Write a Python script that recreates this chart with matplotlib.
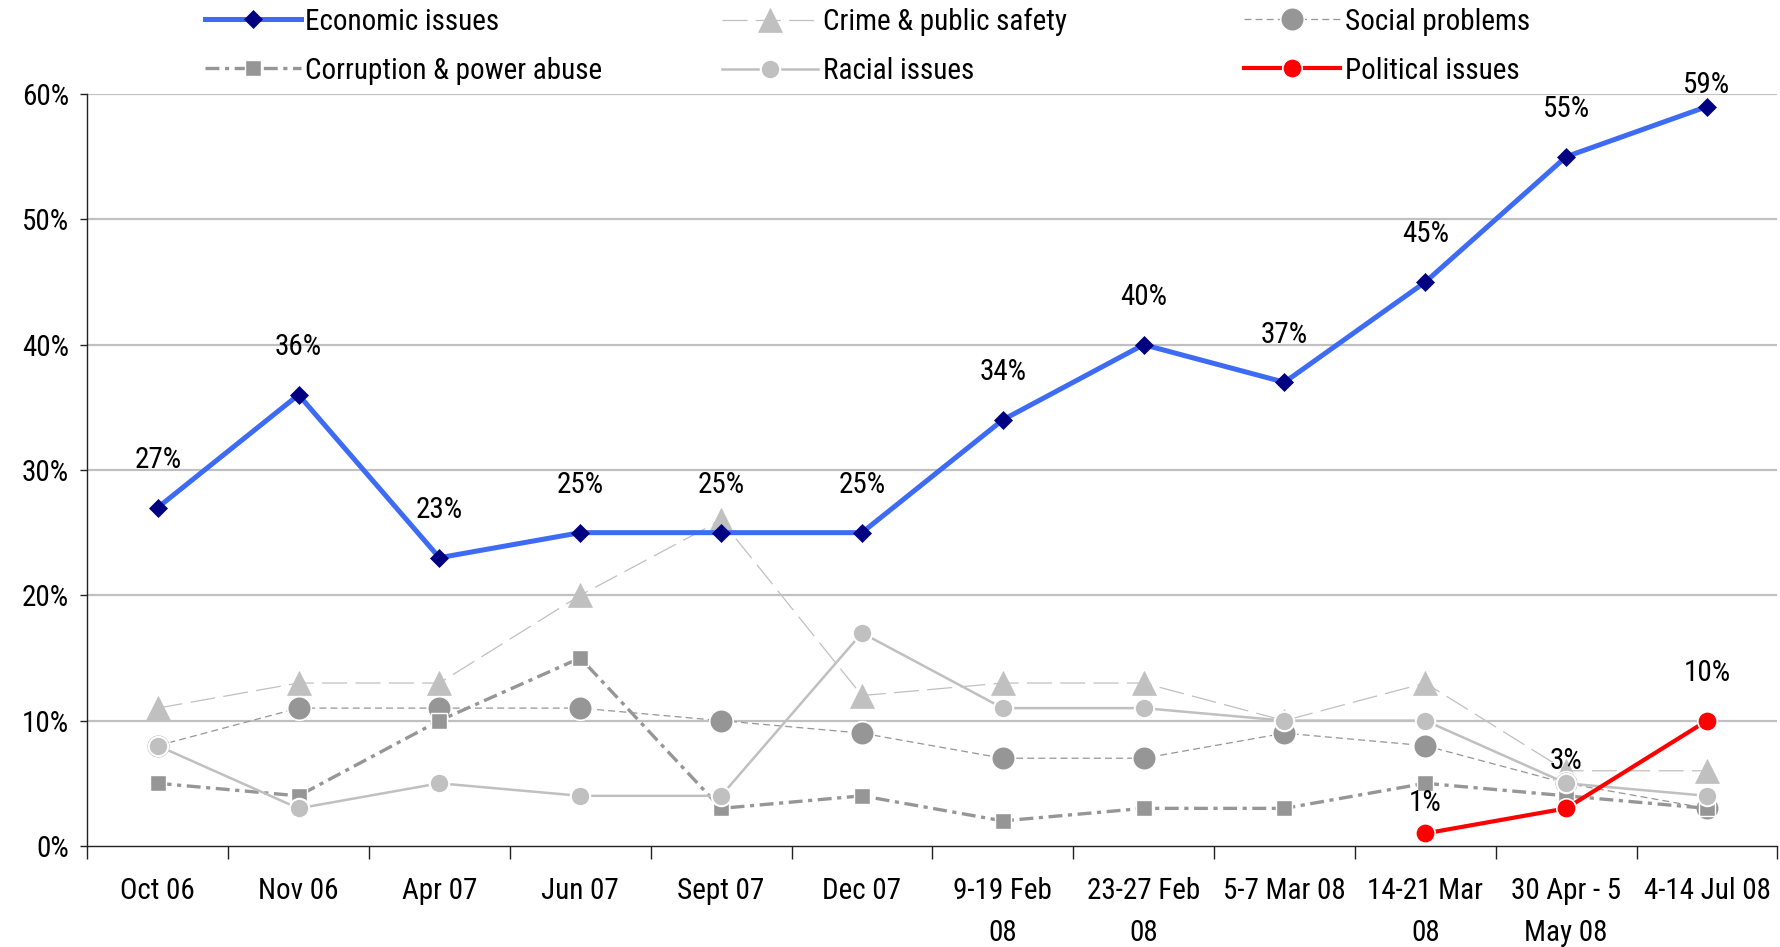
import numpy as np
import matplotlib
matplotlib.use("Agg")
import matplotlib.pyplot as plt
from matplotlib import font_manager

# ---- pick a narrow sans font if one is installed ----
_fonts = font_manager.fontManager.ttflist
_names = {f.name for f in _fonts}
FONT = None
STRETCH = 'normal'
for cand in ['Liberation Sans Narrow', 'Arial Narrow', 'Roboto Condensed',
             'Open Sans Condensed', 'Noto Sans Condensed', 'DejaVu Sans Condensed']:
    if cand in _names:
        FONT = cand
        break
if FONT is None:
    for f in _fonts:
        if f.name in ('Liberation Sans', 'Roboto', 'Noto Sans', 'Open Sans', 'DejaVu Sans') \
                and str(f.stretch) in ('condensed', 'semi-condensed', 'extra-condensed', '75', '87'):
            FONT = f.name
            STRETCH = f.stretch
            break
NARROW = FONT is not None
if FONT is None:
    FONT = 'Liberation Sans'
plt.rcParams['font.family'] = [FONT, 'DejaVu Sans']
plt.rcParams['font.stretch'] = STRETCH
plt.rcParams['lines.scale_dashes'] = False
FS = 21 if NARROW else 19

categories = ["Oct 06", "Nov 06", "Apr 07", "Jun 07", "Sept 07", "Dec 07",
              "9-19 Feb\n08", "23-27 Feb\n08", "5-7 Mar 08", "14-21 Mar\n08",
              "30 Apr - 5\nMay 08", "4-14 Jul 08"]
economic = [27, 36, 23, 25, 25, 25, 34, 40, 37, 45, 55, 59]
crime = [11, 13, 13, 20, 26, 12, 13, 13, 10, 13, 6, 6]
social = [8, 11, 11, 11, 10, 9, 7, 7, 9, 8, 5, 3]
corruption = [5, 4, 10, 15, 3, 4, 2, 3, 3, 5, 4, 3]
racial = [8, 3, 5, 4, 4, 17, 11, 11, 10, 10, 5, 4]
political = [np.nan] * 9 + [1, 3, 10]
yticks = [0, 10, 20, 30, 40, 50, 60]

fig = plt.figure(figsize=(17.81, 9.47), dpi=100)
ax = fig.add_axes([0.049, 0.1067, 0.949, 0.794])
x = np.arange(len(categories))

def pct(v):
    return np.array(v, dtype=float) / 100.0

for y in yticks[1:]:
    ax.axhline(y / 100.0, color='#C0C0C0', lw=1.6, zorder=0)

h_crime, = ax.plot(x, pct(crime), color='#C0C0C0', lw=0.9, dashes=(18, 6),
                   marker='^', ms=17, mfc='#C0C0C0', mec='#C0C0C0', mew=0.5,
                   label='Crime & public safety', zorder=2)
h_social, = ax.plot(x, pct(social), color='#969696', lw=0.9, dashes=(5, 3),
                    marker='o', ms=17, mfc='#969696', mec='white', mew=1.2,
                    label='Social problems', zorder=3)
h_corr, = ax.plot(x, pct(corruption), color='#969696', lw=2.4, dashes=(10, 4, 3, 4),
                  marker='s', ms=12, mfc='#969696', mec='white', mew=1.0,
                  label='Corruption & power abuse', zorder=3)
h_racial, = ax.plot(x, pct(racial), color='#C0C0C0', lw=1.8,
                    marker='o', ms=14, mfc='#C0C0C0', mec='white', mew=1.5,
                    label='Racial issues', zorder=4)
h_pol, = ax.plot(x, pct(political), color='#FF0000', lw=3.0,
                 marker='o', ms=14, mfc='#FF0000', mec='white', mew=1.2,
                 label='Political issues', zorder=5)
h_econ, = ax.plot(x, pct(economic), color='#3D6BF4', lw=3.6,
                  marker='D', ms=9, mfc='#000080', mec='#000080', mew=0.5,
                  label='Economic issues', zorder=6)

# data labels
for xi, v in zip(x, economic):
    ty = min(v + 3.8, 60.7)
    ax.text(xi, ty / 100.0, f"{v}%", ha='center', va='center', fontsize=FS,
            color='black', zorder=7)
for xi, v in zip(x, political):
    if np.isnan(v):
        continue
    off = 2.4 if v < 2 else 3.8
    ax.text(xi, (v + off) / 100.0, f"{int(v)}%", ha='center', va='center',
            fontsize=FS, color='black', zorder=7)

ax.set_xlim(-0.5, len(categories) - 0.5)
ax.set_ylim(0, 0.6)
ax.set_yticks([t / 100.0 for t in yticks])
ax.set_yticklabels([f"{t}%" for t in yticks])
ax.set_xticks(x)
ax.set_xticklabels(categories, linespacing=1.65)
ax.set_xticks(np.arange(len(categories) + 1) - 0.5, minor=True)
ax.tick_params(axis='x', which='major', length=0, pad=22, labelsize=FS)
ax.tick_params(axis='x', which='minor', length=9, width=1, color='#222222')
ax.tick_params(axis='y', which='major', length=5, width=1, pad=8, labelsize=FS,
               color='#222222')
for s in ['top', 'right']:
    ax.spines[s].set_visible(False)
for s in ['left', 'bottom']:
    ax.spines[s].set_color('#222222')
    ax.spines[s].set_linewidth(1.0)

legend_cols = [([h_econ, h_corr], 0.115), ([h_crime, h_racial], 0.4054), ([h_social, h_pol], 0.6985)]
for handles, lx in legend_cols:
    fig.legend(handles=handles, labels=[h.get_label() for h in handles],
               loc='upper left', bbox_to_anchor=(lx, 0.992), frameon=False,
               fontsize=FS, handlelength=3.3 * 21 / FS, handletextpad=0.15,
               labelspacing=0.72, borderpad=0.0, borderaxespad=0.0,
               numpoints=1)

fig.savefig("out.png", dpi=100)
